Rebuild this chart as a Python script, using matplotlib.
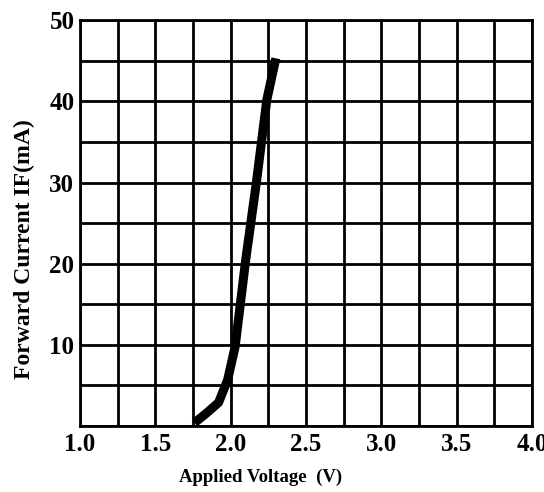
import numpy as np
import matplotlib.pyplot as plt

# IV curve
voltage = [1.76, 1.84, 1.92, 1.98, 2.03, 2.10, 2.17, 2.24, 2.30]
current = [0.4, 1.6, 2.9, 5.7, 9.8, 20.5, 29.9, 40.2, 45.3]

x_ticks = [1.0, 1.5, 2.0, 2.5, 3.0, 3.5, 4.0]
y_ticks = [10, 20, 30, 40, 50]

plt.rcParams['font.family'] = ['Liberation Serif', 'DejaVu Serif']
plt.rcParams['font.weight'] = 'bold'

fig = plt.figure(figsize=(5.44, 4.92), dpi=100)
ax = fig.add_axes([0.147, 0.134, 0.831, 0.825])

ax.plot(voltage, current, color='black', lw=6.5, solid_capstyle='butt', solid_joinstyle='round', zorder=3)

ax.set_xlim(1.0, 4.0)
ax.set_ylim(0, 50)
ax.set_xticks(x_ticks)
ax.set_xticklabels([f"{v:.1f}" for v in x_ticks])
ax.set_yticks(y_ticks)
ax.set_xticks(np.arange(1.0, 4.01, 0.25), minor=True)
ax.set_yticks(np.arange(0, 50.1, 5), minor=True)
ax.grid(True, which='both', color='black', lw=2)
ax.tick_params(which='both', length=0, labelsize=18, pad=5)
ax.tick_params(axis='y', pad=4)
for lab in ax.get_xticklabels() + ax.get_yticklabels():
    lab.set_fontweight('bold')
for sp in ax.spines.values():
    sp.set_linewidth(2)

ax.set_xlabel("Applied Voltage  (V)", fontsize=13.5, fontweight='bold')
ax.xaxis.set_label_coords(0.40, -0.105)
ax.set_ylabel("Forward Current IF(mA)", fontsize=17, fontweight='bold')
ax.yaxis.set_label_coords(-0.10, 0.436)

fig.savefig("out.png", dpi=100)
